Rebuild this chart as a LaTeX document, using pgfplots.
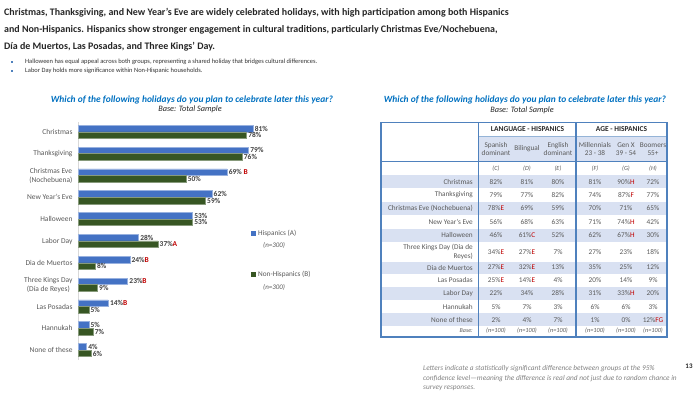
\documentclass[border=0pt]{standalone}
\usepackage{pgfplots}
\pgfplotsset{compat=1.18}
\usepackage{fontspec}
\setmainfont{Carlito}
\definecolor{hblue}{RGB}{68,114,196}
\definecolor{hgreen}{RGB}{55,86,35}
\definecolor{sig}{RGB}{192,0,0}
\definecolor{txt}{RGB}{89,89,89}
\definecolor{lbl}{RGB}{64,64,64}
\definecolor{ttl}{RGB}{0,112,192}
\definecolor{tline}{RGB}{79,129,189}
\definecolor{tshade}{RGB}{217,225,242}
\NewDocumentCommand{\sg}{m}{\textcolor{sig}{#1}}
\newcommand{\trow}[8]{%
 \node[lab, anchor=east] at (473,-#1) {#2};
 \node[val] at (496,-#1) {#3};
 \node[val] at (527,-#1) {#4};
 \node[val] at (558,-#1) {#5};
 \node[val] at (595,-#1) {#6};
 \node[val] at (626,-#1) {#7};
 \node[val] at (653,-#1) {#8};}
\begin{document}
\begin{tikzpicture}[x=1bp,y=1bp,
  lab/.style={font=\fontsize{7.3}{8.6}\selectfont, text=txt, inner sep=0pt, align=right},
  val/.style={font=\fontsize{7.3}{8.6}\selectfont, text=txt, inner sep=0pt, align=center}]
% bar chart
\begin{axis}[at={(78bp,-360bp)}, anchor=south west,
  scale only axis, width=216bp, height=238bp,
  xbar, bar width=6.6bp, bar shift=0pt,
  xmin=0, xmax=100, ymin=-0.45, ymax=10.45, y dir=reverse,
  axis x line=none, axis y line*=left,
  y axis line style={draw=black!15, line width=1bp},
  ytick={0,...,10}, major tick length=0pt,
  yticklabels={Christmas, Thanksgiving, {Christmas Eve\\(Nochebuena)}, New Year’s Eve, Halloween, Labor Day, Dia de Muertos, {Three Kings Day\\(Día de Reyes)}, Las Posadas, Hannukah, None of these},
  yticklabel style={align=center, font=\fontsize{7.5}{9}\selectfont, text=txt, xshift=-2bp},
  point meta=explicit symbolic,
  nodes near coords={\pgfplotspointmeta},
  every node near coord/.append style={anchor=west, font=\fontsize{7.5}{9}\selectfont\bfseries, text=lbl, inner sep=1.5pt},
  clip=false]
\addplot[fill=hblue, draw=hblue!55!white, line width=0.6bp] coordinates {
 (81,-0.15) [81\%] (79,0.85) [79\%] (69,1.85) [69\%~\sg{B}] (62,2.85) [62\%] (53,3.85) [53\%]
 (28,4.85) [28\%] (24,5.85) [24\%\sg{B}] (23,6.85) [23\%\sg{B}] (14,7.85) [14\%\sg{B}]
 (5,8.85) [5\%] (4,9.85) [4\%]};
\addplot[fill=hgreen, draw=hgreen!60!white, line width=0.6bp] coordinates {
 (78,0.15) [78\%] (76,1.15) [76\%] (50,2.15) [50\%] (59,3.15) [59\%] (53,4.15) [53\%]
 (37,5.15) [37\%\sg{A}] (8,6.15) [8\%] (9,7.15) [9\%] (5,8.15) [5\%]
 (7,9.15) [7\%] (6,10.15) [6\%]};
\end{axis}
\path[use as bounding box] (0,0) rectangle (700,-394);
% Title
\node[anchor=west, font=\fontsize{10}{12}\selectfont\bfseries, text=black!85, inner sep=0pt] at (4,-12.7) {Christmas, Thanksgiving, and New Year’s Eve are widely celebrated holidays, with high participation among both Hispanics};
\node[anchor=west, font=\fontsize{10}{12}\selectfont\bfseries, text=black!85, inner sep=0pt] at (4,-30) {and Non-Hispanics. Hispanics show stronger engagement in cultural traditions, particularly Christmas Eve/Nochebuena,};
\node[anchor=west, font=\fontsize{10}{12}\selectfont\bfseries, text=black!85, inner sep=0pt] at (4,-46.7) {Día de Muertos, Las Posadas, and Three Kings’ Day.};
% bullets
\fill[tline] (11.2,-61.3) rectangle (13.2,-63.3);
\fill[tline] (11.2,-70) rectangle (13.2,-72);
\node[anchor=west, font=\fontsize{6.5}{8}\selectfont, text=black!80, inner sep=0pt] at (25,-62.3) {Halloween has equal appeal across both groups, representing a shared holiday that bridges cultural differences.};
\node[anchor=west, font=\fontsize{6.5}{8}\selectfont, text=black!80, inner sep=0pt] at (25,-71) {Labor Day holds more significance within Non-Hispanic households.};
% chart titles
\node[font=\fontsize{9.5}{11}\selectfont\bfseries\itshape, text=ttl, inner sep=0pt] at (192,-99.5) {Which of the following holidays do you plan to celebrate later this year?};
\node[font=\fontsize{8.3}{10}\selectfont\itshape, text=black!85, inner sep=0pt] at (190,-109.5) {Base: Total Sample};
\node[font=\fontsize{9.5}{11}\selectfont\bfseries\itshape, text=ttl, inner sep=0pt] at (525,-99.5) {Which of the following holidays do you plan to celebrate later this year?};
\node[font=\fontsize{8.3}{10}\selectfont\itshape, text=black!85, inner sep=0pt] at (522,-110) {Base: Total Sample};
% legend
\fill[hblue] (251,-231) rectangle (256,-236);
\node[anchor=west, font=\fontsize{7.3}{9}\selectfont, text=txt, inner sep=0pt] at (258,-233.5) {Hispanics (A)};
\node[anchor=west, font=\fontsize{7}{9}\selectfont\itshape, text=txt, inner sep=0pt] at (263,-245.5) {(n=300)};
\fill[hgreen] (251,-271.5) rectangle (256,-276.5);
\node[anchor=west, font=\fontsize{7.3}{9}\selectfont, text=txt, inner sep=0pt] at (258,-274) {Non-Hispanics (B)};
\node[anchor=west, font=\fontsize{7}{9}\selectfont\itshape, text=txt, inner sep=0pt] at (263,-287) {(n=300)};
% table shading
\fill[tshade] (478.7,-136) rectangle (667,-161.7);
\foreach \a/\b in {175/188.3, 201.6/215, 228.8/242, 261.5/274, 287/300, 313/326.3}
  \fill[tshade] (381,-\a) rectangle (667,-\b);
\draw[tline!60, line width=0.5bp] (478.7,-136) -- (667,-136);
\draw[tline, line width=1.3bp] (381,-122.7) rectangle (667,-337);
\draw[tline, line width=1.3bp] (381,-161.7) -- (667,-161.7);
\draw[tline, line width=1.3bp] (478.7,-122.7) -- (478.7,-337);
\draw[tline, line width=1.3bp] (576,-122.7) -- (576,-337);
% headers
\node[font=\fontsize{7.5}{9}\selectfont\bfseries, text=black!85, inner sep=0pt] at (527.5,-129.5) {LANGUAGE - HISPANICS};
\node[font=\fontsize{7.5}{9}\selectfont\bfseries, text=black!85, inner sep=0pt] at (621.5,-129.5) {AGE - HISPANICS};
\node[val] at (496,-149) {Spanish\\dominant};
\node[val] at (527,-149) {Bilingual};
\node[val] at (558,-149) {English\\dominant};
\node[val] at (595,-149) {Millennials\\23 - 38};
\node[val] at (626,-149) {Gen X\\39 - 54};
\node[val] at (653,-149) {Boomers\\55+};
\foreach \x/\t in {496/C, 527/D, 558/E, 595/F, 626/G, 653/H}
  \node[val, font=\fontsize{6.3}{8}\selectfont\itshape] at (\x,-168.5) {(\t)};
% rows
\trow{181.7}{Christmas}{82\%}{81\%}{80\%}{81\%}{90\%\sg{H}}{72\%}
\trow{195}{Thanksgiving}{79\%}{77\%}{82\%}{74\%}{87\%\sg{F}}{77\%}
\trow{208.3}{Christmas Eve (Nochebuena)}{78\%\sg{E}}{69\%}{59\%}{70\%}{71\%}{65\%}
\trow{222}{New Year’s Eve}{56\%}{68\%}{63\%}{71\%}{74\%\sg{H}}{42\%}
\trow{235.3}{Halloween}{46\%}{61\%\sg{C}}{52\%}{62\%}{67\%\sg{H}}{30\%}
\trow{251.7}{Three Kings Day (Dia de\\Reyes)}{34\%\sg{E}}{27\%\sg{E}}{7\%}{27\%}{23\%}{18\%}
\trow{267.5}{Dia de Muertos}{27\%\sg{E}}{32\%\sg{E}}{13\%}{35\%}{25\%}{12\%}
\trow{280.3}{Las Posadas}{25\%\sg{E}}{14\%\sg{E}}{4\%}{20\%}{14\%}{9\%}
\trow{293.5}{Labor Day}{22\%}{34\%}{28\%}{31\%}{33\%\sg{H}}{20\%}
\trow{306.7}{Hannukah}{5\%}{7\%}{3\%}{6\%}{6\%}{3\%}
\trow{319.6}{None of these}{2\%}{4\%}{7\%}{1\%}{0\%}{12\%\sg{FG}}
\node[lab, anchor=east, font=\fontsize{6}{8}\selectfont\itshape] at (473,-330.5) {Base:};
\foreach \x in {496,527,558,595,626,653}
  \node[val, font=\fontsize{6.3}{8}\selectfont\itshape] at (\x,-330.5) {(n=100)};
% footnote
\node[anchor=west, font=\fontsize{7.35}{9}\selectfont\itshape, text=black!50, inner sep=0pt] at (423,-369) {Letters indicate a statistically significant difference between groups at the 95\%};
\node[anchor=west, font=\fontsize{7.35}{9}\selectfont\itshape, text=black!50, inner sep=0pt] at (423,-378.5) {confidence level—meaning the difference is real and not just due to random chance in};
\node[anchor=west, font=\fontsize{7.35}{9}\selectfont\itshape, text=black!50, inner sep=0pt] at (423,-388) {survey responses.};
\node[font=\fontsize{7}{9}\selectfont\bfseries, text=black!85, inner sep=0pt] at (689,-366.7) {13};
\end{tikzpicture}
\end{document}
